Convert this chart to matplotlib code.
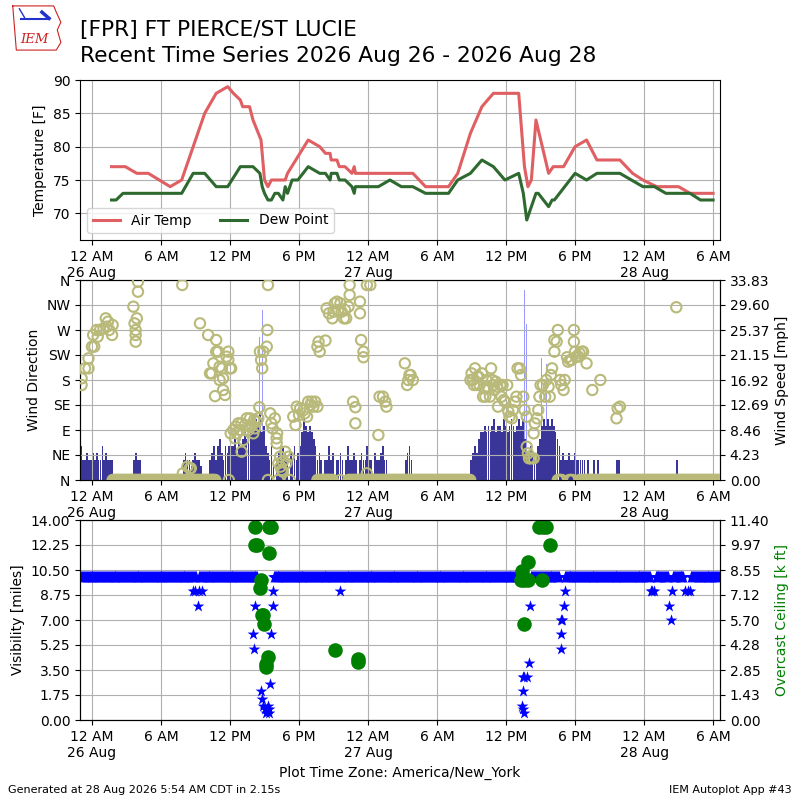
import numpy as np
import matplotlib
matplotlib.use("Agg")
import matplotlib.pyplot as plt
from matplotlib.ticker import FixedLocator

# ---------------------------------------------------------------
# data, hours since 12 AM 26 Aug (America/New_York)
temp_hours = [1.7, 2.9, 3.9, 4.9, 6.8, 7.8, 9.8, 10.8, 11.8, 12.3, 12.9, 13.1,
              13.7, 14.0, 14.7, 15.0, 15.3, 15.6, 16.8, 17.0, 18.8, 19.8, 20.3,
              20.7, 20.8, 21.3, 21.5, 22.0, 22.6, 22.8, 22.9, 23.0, 27.9, 29.0,
              31.0, 31.8, 32.9, 33.9, 34.9, 37.1, 37.6, 37.9, 38.2, 38.6, 39.7,
              40.1, 41.0, 42.0, 43.0, 43.9, 45.9, 47.0, 47.9, 49.1, 51.0, 52.0,
              54.0]
temps = [77, 77, 76, 76, 74, 75, 85, 88, 89, 88, 87, 86,
         86, 84, 81, 75, 74, 75, 75, 76, 81, 80, 79,
         79, 78, 78, 77, 77, 76, 77, 76, 76, 76, 74,
         74, 76, 82, 86, 88, 88, 77, 74, 75, 84, 76,
         77, 77, 80, 81, 78, 78, 76, 75, 74, 74, 73,
         73]

dew_hours = [1.7, 2.1, 2.7, 7.8, 8.8, 9.8, 10.8, 11.8, 12.9, 14.0, 14.6, 14.8,
             15.0, 15.3, 15.6, 15.9, 16.2, 16.6, 16.8, 17.0, 17.4, 17.9, 18.8,
             19.8, 20.3, 20.7, 20.8, 21.3, 21.5, 22.0, 22.6, 22.8, 22.9, 23.1,
             24.9, 25.9, 26.9, 27.9, 29.0, 31.0, 31.8, 32.9, 33.9, 34.9, 35.9,
             37.1, 37.5, 37.8, 38.6, 38.8, 39.7, 40.0, 40.2, 42.0, 43.0, 43.9,
             45.9, 47.9, 48.9, 49.9, 52.0, 52.9, 54.0]
dews = [72, 72, 73, 73, 76, 76, 74, 74, 77, 77, 76, 74,
        73, 72, 72, 73, 73, 72, 74, 73, 75, 75, 77,
        76, 76, 75, 76, 76, 75, 75, 74, 73, 74, 74,
        74, 75, 74, 74, 73, 73, 75, 76, 78, 77, 75,
        76, 73, 69, 73, 73, 71, 72, 72, 76, 75, 76,
        76, 74, 74, 73, 73, 72, 72]

# wind speed [kt], 10 minute reports, each block starts at the given hour
speed_starts = [-1.0, 3.6, 7.9, 10.2, 27.2, 32.9, 45.6, 50.8]
speed_blocks = [
    "5 3 3 4 3 3 4 3 4 3 3 5 3 4 3 3 3",
    "3 4 3 3",
    "3 4 3 3 2 3 4 3 3 2",
    "3 4 5 3 5 6 4 3 5 4 5 "
    "5 5 6 4 6 5 6 7 6 7 8 7 8 9 8 10 7 8 5 "
    "4 3 5 3 0 3 4 3 5 4 3 0 4 3 5 3 4 5 7 9 8 7 8 7 6 5 "
    "3 4 3 0 3 3 5 3 4 0 3 3 4 3 0 3 5 3 3 4 3 0 3 4 3 3 5 3 3 0 4 3 3 4 5 3 3",
    "3 4 5 3",
    "3 4 5 4 6 7 7 8 7 8 7 8 9 7 8 8 7 9 8 7 8 9 8 7 8 9 8 9 "
    "6 4 3 5 4 3 4 5 6 8 9 8 9 8 9 8 7 6 5 "
    "3 4 3 3 4 3 3 4 3 3 3 3 3 0 3 0 0 3 0 3 0",
    "3 3",
    "3",
]
gust_hours = [14.6, 14.8, 37.6, 37.8, 39.1, 39.5]
gust_kt = [21, 25, 28, 23, 18, 17]

# wind direction [deg] of the non calm reports
dir_hours = [
    -0.9, -0.9, -0.6, -0.3, -0.3, 0.0, 0.2, 0.1, 0.4, 0.5, 0.7, 1.0, 1.2, 1.3,
    1.4, 1.5, 1.75, 1.8,
    3.6, 3.7, 3.8, 3.8, 3.8, 3.9, 4.0, 4.0,
    7.85, 7.9, 8.3, 8.5, 8.6,
    9.39, 10.1, 10.8, 10.55, 10.8, 10.97, 10.26, 10.4, 11.1, 11.1, 11.3, 11.4,
    11.4, 11.57, 10.7, 11.7, 11.86, 12.0, 12.1, 11.86,
    12.06, 12.29, 12.43, 12.5, 12.6, 12.72, 12.87, 13.0, 13.01, 13.16, 13.3,
    13.45, 13.6, 13.74, 13.74, 13.9, 14.03, 14.1, 14.17, 14.32, 14.46, 14.55,
    14.6, 14.7, 14.8, 14.9, 15.2, 15.25, 15.3, 15.5, 15.6, 15.7, 15.9, 16.05,
    16.06, 16.1, 16.2, 16.35, 16.4, 16.5, 16.6, 16.6, 16.8, 16.9, 17.1,
    17.5, 17.7, 17.8, 18.0, 18.1, 18.4, 18.5, 18.7, 18.8, 19.0, 19.1, 19.25,
    19.4, 19.6,
    19.6, 19.7, 19.8, 20.3, 20.4, 20.6, 20.9, 21.0, 21.1, 21.3, 21.4, 21.6,
    21.7, 21.9, 22.0, 22.1, 22.3, 22.4, 22.4, 22.7, 22.9, 22.9, 23.3, 23.3,
    23.4, 23.6, 23.6, 23.9, 23.9, 24.2, 24.9, 25.0, 25.3, 25.5, 25.6,
    27.2, 27.4, 27.5, 27.6, 27.7, 27.9,
    32.9, 33.0, 33.1, 33.2, 33.3, 33.45, 33.5, 33.6, 33.7, 33.9, 34.0, 34.1,
    34.2, 34.3, 34.4, 34.6, 34.7, 34.8, 34.9, 35.0, 35.1, 35.2, 35.3, 35.5,
    35.6, 35.7, 35.8, 35.9, 36.1, 36.2, 36.3, 36.5, 36.6, 36.8, 36.9, 37.0,
    37.2, 37.3, 37.5, 37.6, 37.8, 37.8, 37.9, 38.0, 38.2, 38.4, 38.4, 38.5,
    38.7, 38.8, 38.9, 39.0, 39.2, 39.4, 39.5, 39.7, 39.8, 39.9, 40.0, 40.2,
    40.2, 40.4, 40.5, 40.7, 40.8, 41.0, 41.1, 41.3, 41.4, 41.6, 41.7, 41.9,
    41.9, 42.0, 42.1, 42.3, 42.4, 42.6, 42.7, 43.0, 43.5, 44.2,
    45.6, 45.7, 45.9, 50.8]
dir_deg = [
    171, 183, 201, 219, 201, 240, 240, 261, 270, 258, 270, 273, 291, 276,
    285, 270, 261, 279,
    312, 282, 270, 261, 249, 291, 339, 357,
    351, 12, 24, 21, 21,
    282, 261, 252, 210, 231, 231, 192, 192, 204, 180, 201, 183,
    162, 153, 151, 222, 231, 201, 201, 216,
    84, 90, 75, 96, 84, 102, 90, 102, 51, 72, 99,
    111, 90, 111, 96, 99, 84, 108, 93, 105, 111, 131,
    231, 216, 201, 231, 240, 270, 351, 120, 102, 93, 111, 75,
    66, 84, 30, 42, 24, 18, 33, 15, 51, 30, 42,
    114, 99, 132, 117, 129, 126, 120, 114, 141, 135, 141, 132,
    141, 132,
    240, 249, 231, 251, 309, 300, 291, 303, 318, 321, 306, 318,
    303, 291, 306, 291, 312, 333, 351, 141, 131, 102, 321, 300,
    252, 231, 221, 351, 12, 351, 81, 150, 150, 141, 132,
    210, 171, 180, 189, 189, 180,
    180, 192, 180, 171, 201, 171, 186, 186, 171, 192, 150, 165,
    150, 180, 168, 150, 201, 180, 171, 162, 177, 168, 132, 171,
    150, 171, 144, 141, 171, 123, 114, 111, 126, 141, 150, 201,
    201, 189, 150, 126, 114, 60, 48, 39, 39, 39, 84, 102,
    111, 126, 150, 171, 171, 150, 180, 168, 150, 189, 201, 252,
    231, 249, 270, 180, 171, 162, 180, 221, 213, 216, 216, 270,
    249, 231, 222, 222, 228, 231, 231, 210, 162, 180,
    111, 129, 132, 311]

# calm periods (direction plotted as 0)
calm_runs = [(1.8, 10.8), (19.6, 21.0), (22.3, 32.9), (40.5, 40.9),
             (41.5, 41.8), (42.4, 54.6)]
calm_single = [11.9, 15.3, 16.2, 17.2, 21.6]

# visibility [miles]: periods reporting 10 miles, plus the lower reports
vis10_runs = [(-1.04, 9.1), (9.3, 14.4), (15.8, 37.3), (38.2, 40.7),
              (41.1, 48.6), (49.0, 50.1), (50.5, 51.5), (52.1, 54.6)]
vis_hours = [8.8, 9.0, 9.3, 9.6, 9.2,
             14.2, 14.0, 14.05, 14.7, 14.8, 14.9, 15.0, 15.1, 15.2, 15.3, 15.35,
             15.4, 15.5, 15.6, 15.7, 15.75, 21.6,
             37.4, 37.5, 37.55, 37.5, 37.45, 37.6, 37.8, 38.0, 38.1,
             40.75, 40.8, 40.8, 40.9, 41.0, 41.1,
             48.6, 48.7, 48.9, 50.2, 50.3, 50.4, 51.6, 51.8, 52.0]
vis_miles = [9, 9, 9, 9, 8,
             8, 6, 5, 2, 1.5, 1.0, 0.75, 0.5, 0.75, 1.0, 0.5,
             0.75, 2.5, 6, 8, 9, 9,
             1.0, 0.75, 0.5, 2.0, 3.0, 3.0, 3.0, 4.0, 8.0,
             5, 6, 7, 7, 8, 9,
             9, 9, 9, 8, 7, 9, 9, 9, 9]

# overcast ceiling [k ft]
ceil_hours = [14.2, 15.4, 15.6, 14.2, 14.35, 15.4, 14.7, 14.6, 14.8, 14.9,
              14.95, 15.3, 15.1, 15.1, 21.1, 23.1, 23.1,
              38.9, 39.2, 39.5, 39.8, 37.9, 37.4, 37.3, 37.6, 37.9, 39.15, 37.6]
ceil_kft = [11.0, 11.0, 11.0, 10.0, 10.0, 9.5, 8.0, 7.5, 6.0, 6.0,
            5.5, 3.6, 3.2, 3.0, 4.0, 3.5, 3.3,
            11.0, 11.0, 11.0, 10.0, 9.0, 8.5, 8.0, 8.0, 8.0, 8.0, 5.5]

tick_hours = [0, 6, 12, 18, 24, 30, 36, 42, 48, 54]
tick_labels = ["12 AM\n26 Aug", "6 AM", "12 PM", "6 PM", "12 AM\n27 Aug",
               "6 AM", "12 PM", "6 PM", "12 AM\n28 Aug", "6 AM"]
compass = ["N", "NE", "E", "SE", "S", "SW", "W", "NW", "N"]

KT2MPH = 1.15078

# ---------------------------------------------------------------
fig = plt.figure(figsize=(8, 8), dpi=100)

fig.text(0.1, 0.9625, "[FPR] FT PIERCE/ST LUCIE", fontsize=15.7,
         va="center", ha="left")
fig.text(0.1, 0.930, "Recent Time Series 2026 Aug 26 - 2026 Aug 28",
         fontsize=15.7, va="center", ha="left")

# crude IEM logo
lax = fig.add_axes([0.014, 0.935, 0.064, 0.06])
lax.set_xlim(0, 10)
lax.set_ylim(0, 10)
lax.axis("off")
lax.plot([0.3, 8.3, 8.8, 9.7, 9.0, 9.7, 8.8, 1.0, 0.3],
         [9.6, 9.6, 8.3, 6.2, 4.6, 2.0, 0.4, 0.4, 9.6], color="#cc2222", lw=0.8)
lax.plot([2.0, 7.2], [6.8, 6.8], color="#2233cc", lw=1.5)
lax.plot([6.0, 7.4], [8.3, 7.0], color="#2233cc", lw=2.5)
lax.plot([1.6, 2.6], [9.0, 7.2], color="#2233cc", lw=1.0)
lax.text(4.5, 2.6, "IEM", color="#cc2222", fontsize=9.5, style="italic",
         family="serif", ha="center", va="center")


def style_time(ax):
    ax.set_xlim(-1.04, 54.6)
    ax.xaxis.set_major_locator(FixedLocator(tick_hours))
    ax.set_xticklabels(tick_labels)
    ax.grid(True)


# temperature
ax1 = fig.add_axes([0.1, 0.7, 0.8, 0.2])
ax1.plot(temp_hours, temps, color="#df5f63", lw=2.2, label="Air Temp")
ax1.plot(dew_hours, dews, color="#2e6930", lw=2.2, label="Dew Point")
ax1.set_ylim(66, 90)
ax1.set_yticks([70, 75, 80, 85, 90])
ax1.set_ylabel("Temperature [F]")
style_time(ax1)
ax1.legend(loc="lower left", ncol=2)

# wind
ax2 = fig.add_axes([0.1, 0.4, 0.8, 0.25])
ax2b = ax2.twinx()
sp_h = []
sp_v = []
for st, block in zip(speed_starts, speed_blocks):
    vals = [float(v) for v in block.split()]
    sp_h += [st + i / 6.0 for i in range(len(vals))]
    sp_v += vals
sp_v = np.array(sp_v) * KT2MPH
gust_mph = np.array(gust_kt) * KT2MPH
ax2b.bar(gust_hours, gust_mph, width=0.07, color="#9a9aff", lw=0)
ax2b.bar(sp_h, sp_v, width=0.15, color="#3a3699", lw=0, align="edge")
ymax = gust_mph.max() * 1.05
spd_ticks = np.linspace(0, ymax, 9)
ax2b.set_ylim(0, ymax)
ax2b.set_yticks(spd_ticks)
ax2b.set_yticklabels(["%.2f" % v for v in spd_ticks])
ax2b.set_ylabel("Wind Speed [mph]")

calm_h = list(calm_single)
for a, b in calm_runs:
    calm_h += list(np.arange(a, b, 5 / 60.0))
ax2.scatter(calm_h, np.zeros(len(calm_h)), s=55, facecolor="none",
            edgecolor="#b9ba7a", lw=1.5, zorder=3)
ax2.scatter(dir_hours, dir_deg, s=55, facecolor="none",
            edgecolor="#b9ba7a", lw=1.5, zorder=3)
ax2.set_ylim(0, 360)
ax2.set_yticks(range(0, 361, 45))
ax2.set_yticklabels(compass)
ax2.set_ylabel("Wind Direction")
ax2.set_zorder(ax2b.get_zorder() + 1)
ax2.patch.set_visible(False)
style_time(ax2)

# visibility and ceiling
ax3 = fig.add_axes([0.1, 0.1, 0.8, 0.25])
ax3b = ax3.twinx()
v_h = []
for a, b in vis10_runs:
    v_h += list(np.arange(a, b, 5 / 60.0))
ax3.scatter(v_h, np.full(len(v_h), 10.0), marker="*", s=95, color="blue",
            lw=0, zorder=3)
ax3.scatter(vis_hours, vis_miles, marker="*", s=80, color="blue", lw=0,
            zorder=3)
vis_ticks = np.linspace(0, 14, 9)
ax3.set_ylim(0, 14)
ax3.set_yticks(vis_ticks)
ax3.set_yticklabels(["%.2f" % v for v in vis_ticks])
ax3.set_ylabel("Visibility [miles]")
style_time(ax3)
ax3.set_xlabel("Plot Time Zone: America/New_York")

ax3b.scatter(ceil_hours, ceil_kft, s=110, color="green", lw=0)
ceil_ticks = np.linspace(0, 11.4, 9)
ax3b.set_ylim(0, 11.4)
ax3b.set_yticks(ceil_ticks)
ax3b.set_yticklabels(["%.2f" % v for v in ceil_ticks])
ax3b.set_ylabel("Overcast Ceiling [k ft]", color="green")

fig.text(0.01, 0.006, "Generated at 28 Aug 2026 5:54 AM CDT in 2.15s",
         fontsize=8, va="bottom")
fig.text(0.99, 0.006, "IEM Autoplot App #43", fontsize=8, va="bottom",
         ha="right")

fig.savefig("out.png", dpi=100)
